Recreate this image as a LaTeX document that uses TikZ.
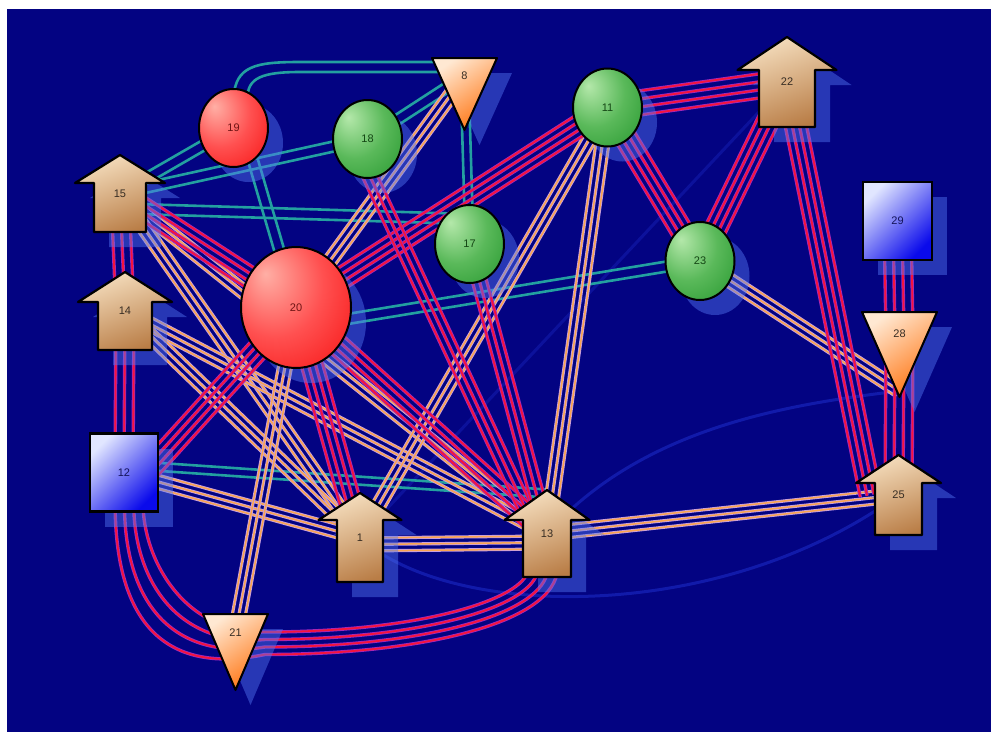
\documentclass[tikz,border=0pt]{standalone}
\usepackage{fontspec}
\setmainfont{Liberation Sans}
\usetikzlibrary{calc,shapes.geometric,shadows}

\definecolor{navybg}{RGB}{3,3,130}
\definecolor{shadowblue}{RGB}{85,120,245}
\definecolor{redout}{RGB}{160,40,190}
\definecolor{redin}{RGB}{245,20,60}
\definecolor{orout}{RGB}{200,160,225}
\definecolor{orin}{RGB}{250,165,80}
\definecolor{tealc}{RGB}{35,160,160}
\definecolor{faint}{RGB}{45,70,245}
\definecolor{rA}{RGB}{255,175,165}
\definecolor{rB}{RGB}{255,80,80}
\definecolor{rC}{RGB}{245,5,5}
\definecolor{rD}{RGB}{210,0,0}
\definecolor{gA}{RGB}{180,232,170}
\definecolor{gB}{RGB}{90,185,90}
\definecolor{gC}{RGB}{28,145,38}
\definecolor{gD}{RGB}{15,105,25}
\definecolor{arrLight}{RGB}{245,222,190}
\definecolor{arrDark}{RGB}{185,125,70}
\definecolor{triLight}{RGB}{255,232,210}
\definecolor{triDark}{RGB}{255,115,15}
\definecolor{sqLight}{RGB}{225,230,255}
\definecolor{sqDark}{RGB}{10,10,235}
\definecolor{lbldark}{RGB}{55,45,35}
\definecolor{lblred}{RGB}{110,20,20}
\definecolor{lblgreen}{RGB}{20,70,20}
\definecolor{lblblue}{RGB}{20,20,90}

\pgfdeclareradialshading{redsphere}{\pgfpoint{-14bp}{14bp}}{color(0bp)=(rA); color(22bp)=(rB); color(48bp)=(rC); color(70bp)=(rD)}
\pgfdeclareradialshading{greensphere}{\pgfpoint{-14bp}{14bp}}{color(0bp)=(gA); color(22bp)=(gB); color(48bp)=(gC); color(70bp)=(gD)}

\pgfdeclarelayer{backdrop}
\pgfdeclarelayer{links}
\pgfsetlayers{backdrop,links,main}

\tikzset{
  lbl/.style={font=\fontsize{11}{11}\selectfont, inner sep=0pt, text=lbldark},
  softshadow/.style={drop shadow={shadow xshift=15pt, shadow yshift=-15pt, fill=shadowblue, opacity=.45}},
  ball/.style={ellipse, draw=black, line width=2pt, shade, inner sep=0pt,
    minimum width=69pt, minimum height=78pt, softshadow, lbl},
  redball/.style={ball, shading=redsphere, text=lblred},
  greenball/.style={ball, shading=greensphere, text=lblgreen},
  squarebox/.style={rectangle, draw=black, line width=2.6pt, top color=sqLight,
    bottom color=sqDark, shading angle=45, minimum width=68pt, minimum height=78pt,
    softshadow, lbl, text=lblblue},
  shadowshape/.style={fill=shadowblue, opacity=.45},
  arrowshape/.style={draw=black, line width=2.2pt, line join=round,
    top color=arrLight, bottom color=arrDark, shading angle=20},
  trishape/.style={draw=black, line width=2pt, line join=round,
    top color=triLight, bottom color=triDark, shading angle=35},
  rs/.style={draw=redout, line width=3.4pt, postaction={draw=redin, line width=1.8pt}},
  os/.style={draw=orout, line width=3.2pt, postaction={draw=orin, line width=1.5pt}},
  ts/.style={draw=tealc, line width=2.6pt},
  faintline/.style={draw=faint, line width=3pt, opacity=.35},
}

% up arrow: name, cx, cy, half height, head base, head half width, body half width
\newcommand\uparrownode[7]{%
  \path[shadowshape, shift={(#2+15,#3+15)}] (0,-#4) -- (#6,#5) -- (#7,#5) -- (#7,#4)
     -- (-#7,#4) -- (-#7,#5) -- (-#6,#5) -- cycle;
  \path[arrowshape, shift={(#2,#3)}] (0,-#4) -- (#6,#5) -- (#7,#5) -- (#7,#4)
     -- (-#7,#4) -- (-#7,#5) -- (-#6,#5) -- cycle;
  \node[lbl] (n#1) at (#2,#3) {#1};}

% down triangle: name, cx, top y, half width, tip y, label y
\newcommand\downtrinode[6]{%
  \path[shadowshape] (#2-#4+15,#3+15) -- (#2+#4+15,#3+15) -- (#2+15,#5+15) -- cycle;
  \path[trishape] (#2-#4,#3) -- (#2+#4,#3) -- (#2,#5) -- cycle;
  \node[lbl] (n#1) at (#2,#6) {#1};
  \coordinate (n#1tip) at (#2,#5-6);}

% bundle of parallel strands between two named points
\newcommand\linkbundle[4]{%
  \foreach \o in {#4}{%
    \draw[#1] ($(#2)!\o pt!90:(#3)$) -- ($(#3)!\o pt!-90:(#2)$);}}

\begin{document}
\begin{tikzpicture}[x=1pt,y=-1pt]
\useasboundingbox (0,0) rectangle (991,732);
\begin{pgfonlayer}{backdrop}
  \fill[white] (0,0) rectangle (991,732);
  \fill[navybg] (7,9) rectangle (991,732);
\end{pgfonlayer}

% ---- nodes ----
\uparrownode{15}{120}{193.5}{38.5}{-10.5}{45}{26}
\uparrownode{14}{125}{311}{39}{-9}{47}{27}
\uparrownode{22}{787}{82}{45}{-12}{49.5}{28}
\uparrownode{1}{360}{537.5}{44.5}{-17.5}{41.5}{23}
\uparrownode{13}{547}{533.5}{43.5}{-13.5}{42.5}{24}
\uparrownode{25}{898.5}{495}{40}{-12}{42.5}{23.5}

\downtrinode{8}{464.5}{58}{32.5}{130}{76}
\downtrinode{28}{899.5}{312}{37.5}{397}{334}
\downtrinode{21}{235.5}{614}{32.5}{690}{633}

\node[redball] (n19) at (233.5,128) {19};
\node[greenball] (n18) at (367.5,139) {18};
\node[greenball] (n11) at (607.5,107.5) {11};
\node[greenball] (n17) at (469.5,244) {17};
\node[greenball] (n23) at (700,261) {23};
\node[redball, minimum width=110pt, minimum height=121pt] (n20) at (296,307.5) {20};

\node[squarebox] (n12) at (124,472.5) {12};
\node[squarebox, minimum width=69pt] (n29) at (897.5,221) {29};

% attachment points on node faces
\coordinate (n12t) at ($(n12.center)+(0,-8)$);
\coordinate (n13t) at ($(n13.center)+(0,-40)$);
\coordinate (n15t) at ($(n15.center)+(0,15)$);
\coordinate (n17t) at ($(n17.center)+(0,-25)$);
\coordinate (n19t) at ($(n19.center)+(10,0)$);
\coordinate (n20t) at ($(n20.center)+(0,20)$);
\coordinate (n12r) at ($(n12.center)+(0,25)$);
\coordinate (n18r) at ($(n18.center)+(-15,0)$);
\coordinate (n13r) at ($(n13.center)+(-10,0)$);
\coordinate (n25r) at ($(n25.center)+(-28,0)$);
\coordinate (n1o) at ($(n1.center)+(0,7)$);
\coordinate (n13o) at ($(n13.center)+(0,9)$);

% ---- dim blue links ----
\begin{pgfonlayer}{backdrop}
  \draw[faintline] (n13.center) .. controls (640,430) and (780,405) .. (n28tip);
  \draw[faintline] (n1.center) .. controls (450,620) and (720,625) .. (n25.center);
  \draw[faintline, opacity=.22] (n1.center) -- (n22.center);
\end{pgfonlayer}

% ---- links ----
\begin{pgfonlayer}{links}
  % teal pairs
  \linkbundle{ts}{n15}{n19}{-5,5}
  \linkbundle{ts}{n15}{n18}{-5,5}
  \linkbundle{ts}{n15t}{n17t}{-5,5}
  \linkbundle{ts}{n18}{n8}{-5,5}
  \linkbundle{ts}{n8}{n17}{-4,4}
  \linkbundle{ts}{n19t}{n20}{-5,5}
  \linkbundle{ts}{n20t}{n23}{-5,5}
  \linkbundle{ts}{n12t}{n13t}{-4,4}
  \draw[ts] ($(n19.center)+(0,-30)$) .. controls ($(n19.center)+(2,-62)$) and (255,62)
    .. (300,62) -- ($(n8.center)+(-10,-14)$);
  \draw[ts] ($(n19.center)+(14,-30)$) .. controls ($(n19.center)+(14,-50)$) and (262,72)
    .. (300,72) -- ($(n8.center)+(-10,-4)$);

  % orange triples
  \linkbundle{os}{n15}{n1}{-6.5,0,6.5}
  \linkbundle{os}{n15}{n13}{-6.5,0,6.5}
  \linkbundle{os}{n14}{n13}{-6.5,0,6.5}
  \linkbundle{os}{n14}{n1}{-6.5,0,6.5}
  \linkbundle{os}{n12}{n1}{-6.5,0,6.5}
  \linkbundle{os}{n20}{n21}{-6.5,0,6.5}
  \linkbundle{os}{n8}{n20}{-6.5,0,6.5}
  \linkbundle{os}{n1}{n11}{-6.5,0,6.5}
  \linkbundle{os}{n13}{n11}{-6.5,0,6.5}
  \linkbundle{os}{n1o}{n13o}{-6.5,0,6.5}
  \linkbundle{os}{n13}{n25}{-6.5,0,6.5}
  \linkbundle{os}{n23}{n28tip}{-6.5,0,6.5}

  % red bundles
  \linkbundle{rs}{n15}{n14}{-9,0,9}
  \linkbundle{rs}{n14}{n12}{-9,0,9}
  \linkbundle{rs}{n15}{n20}{-10.5,-3.5,3.5,10.5}
  \linkbundle{rs}{n12r}{n20}{-10.5,-3.5,3.5,10.5}
  \linkbundle{rs}{n20}{n1}{-10.5,-3.5,3.5,10.5}
  \linkbundle{rs}{n20}{n11}{-10.5,-3.5,3.5,10.5}
  \linkbundle{rs}{n20}{n13}{-10.5,-3.5,3.5,10.5}
  \linkbundle{rs}{n18r}{n13r}{-7,0,7}
  \linkbundle{rs}{n17}{n13}{-7,0,7}
  \linkbundle{rs}{n11}{n22}{-12,-4,4,12}
  \linkbundle{rs}{n11}{n23}{-10.5,-3.5,3.5,10.5}
  \linkbundle{rs}{n22}{n23}{-10.5,-3.5,3.5,10.5}
  \linkbundle{rs}{n22}{n25r}{-10.5,-3.5,3.5,10.5}
  \linkbundle{rs}{n29}{n28}{-13.5,-4.5,4.5,13.5}
  \linkbundle{rs}{n28}{n25}{-13.5,-4.5,4.5,13.5}
  \foreach \i in {0,1,2,3}{%
    \draw[rs] ($(n12.center)+(19-9.3*\i,30)$)
      .. controls ($(n12.center)+(19-9.3*\i,88+25*\i)$) and (185-3*\i,634+13*\i)
      .. (265,632+7.5*\i)
      .. controls (420,632+7.5*\i) and (517+10*\i,600+8*\i)
      .. ($(n13.center)+(-20+10*\i,40)$);}
\end{pgfonlayer}
\end{tikzpicture}
\end{document}
